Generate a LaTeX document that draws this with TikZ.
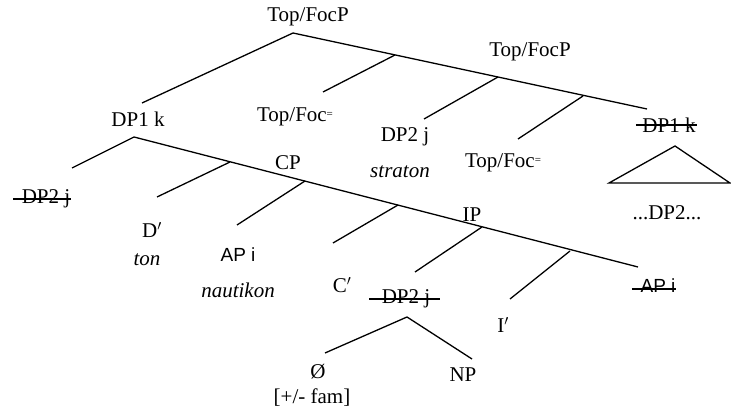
\documentclass[tikz,border=0pt]{standalone}
\usepackage{fontspec}
\setmainfont{Liberation Serif}
\newfontfamily\apfont{Liberation Sans}
\newcommand{\focmark}{\raisebox{4pt}{\fontsize{11}{11}\selectfont=}}
\begin{document}
\begin{tikzpicture}[x=1pt, y=-1pt, line width=1.3pt,
		lbl/.style={inner sep=0pt, font=\fontsize{21}{24}\selectfont},
		gloss/.style={inner sep=0pt, font=\fontsize{21}{24}\selectfont\itshape},
		aplbl/.style={inner sep=0pt, font=\fontsize{19}{22}\selectfont\apfont}]
	\useasboundingbox (0,0) rectangle (731,411);

	% Upper spine
	\node[lbl] (topA) at (308,17) {Top/FocP};
	\node[lbl] (topB) at (530,52) {Top/FocP};
	\coordinate (rootA) at (293,33);
	\coordinate (endA1) at (142,103);
	\coordinate (endA2) at (647,109);
	\coordinate (brA1) at (395,55);
	\coordinate (brA2) at (498,77);
	\coordinate (brA3) at (583,96);
	\coordinate (endB1) at (323,92);
	\coordinate (endB2) at (424,119);
	\coordinate (endB3) at (518,139);
	\draw (rootA) -- (endA1);
	\draw (rootA) -- (endA2);
	\draw (brA1) -- (endB1);
	\draw (brA2) -- (endB2);
	\draw (brA3) -- (endB3);

	% Upper labels
	\node[lbl] (dpk) at (138,119) {DP1 k};
	\node[lbl] (focA) at (295,117) {Top/Foc\focmark};
	\node[lbl] (dpjB) at (405,137) {DP2 j};
	\node[gloss] (straton) at (400,172) {straton};
	\node[lbl] (focB) at (503,163) {Top/Foc\focmark};
	\node[lbl] (dpkB) at (669,125) {DP1 k};
	\draw ([xshift=-6pt]dpkB.west) -- ([xshift=1pt]dpkB.east);

	% Triangle
	\coordinate (triTop) at (675,146);
	\coordinate (triL) at (609,183);
	\coordinate (triR) at (730,183);
	\draw (triTop) -- (triL) -- (triR) -- cycle;
	\node[lbl] (dots) at (667,213) {...DP2...};

	% Lower spine
	\node[lbl] (cp) at (288,163) {CP};
	\node[lbl] (ip) at (472,215) {IP};
	\coordinate (apexB) at (134,137);
	\coordinate (endC0) at (72,168);
	\coordinate (endC9) at (638,267);
	\coordinate (brC1) at (230,162);
	\coordinate (brC2) at (305,181);
	\coordinate (brC3) at (398,205);
	\coordinate (brC4) at (482,227);
	\coordinate (brC5) at (570,251);
	\coordinate (endC1) at (157,197);
	\coordinate (endC2) at (237,225);
	\coordinate (endC3) at (333,243);
	\coordinate (endC4) at (415,272);
	\coordinate (endC5) at (510,299);
	\draw (apexB) -- (endC0);
	\draw (apexB) -- (endC9);
	\foreach \i in {1,...,5}
		\draw (brC\i) -- (endC\i);

	% Lower labels
	\node[lbl] (dpjA) at (46,199) {DP2 j};
	\draw ([xshift=-8pt]dpjA.west) -- (dpjA.east);
	\node[lbl] (dbar) at (152,230) {D$^{\prime}$};
	\node[gloss] (ton) at (147,260) {ton};
	\node[aplbl] (api) at (238,255) {AP i};
	\node[gloss] (nautikon) at (238,290) {nautikon};
	\node[lbl] (cbar) at (342,285) {C$^{\prime}$};
	\node[lbl] (dpjC) at (406,299) {DP2 j};
	\draw ([xshift=-12pt]dpjC.west) -- ([xshift=9pt]dpjC.east);
	\node[lbl] (ibar) at (503,325) {I$^{\prime}$};
	\node[aplbl] (apiB) at (658,286) {AP i};
	\draw ([xshift=-8pt,yshift=-3pt]apiB.west) -- ([yshift=-3pt]apiB.east);

	% DP2 j subtree
	\coordinate (apexC) at (407,317);
	\coordinate (endD1) at (325,353);
	\coordinate (endD2) at (472,359);
	\draw (endD1) -- (apexC) -- (endD2);
	\node[lbl] (zero) at (318,372) {Ø};
	\node[lbl] (fam) at (312,398) {[+/- fam]};
	\node[lbl] (np) at (463,375) {NP};
\end{tikzpicture}
\end{document}
